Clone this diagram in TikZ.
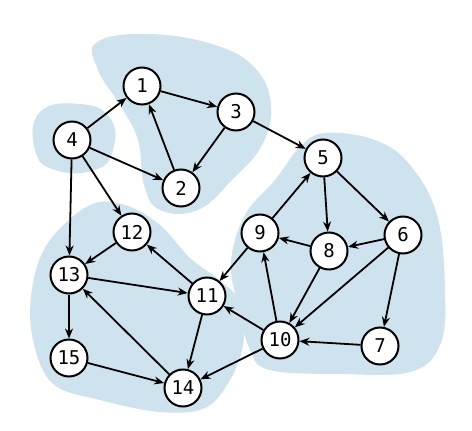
\documentclass[tikz,border=0pt]{standalone}
\usepackage{fontspec}
\newfontfamily\numfont{DejaVu Sans Mono}
\usetikzlibrary{arrows.meta}
\definecolor{blobblue}{RGB}{207,227,239}
\tikzset{
  vtx/.style={circle, draw=black, line width=2pt, fill=white, minimum size=37pt, inner sep=0pt, font=\numfont\fontsize{19}{19}\selectfont},
  arc/.style={line width=1.8pt, -{Stealth[length=10pt,width=8pt]}},
  blob/.style={fill=blobblue, draw=none}
}
\begin{document}
\begin{tikzpicture}[x=1pt,y=-1pt]
\useasboundingbox (0,0) rectangle (472,431);
% blobs
\fill[blob] plot[smooth cycle, tension=0.7] coordinates {(97,42) (150,34) (215,45) (255,68) (271,105) (262,145) (232,180) (198,210) (160,210) (144,185) (138,140) (120,105) (98,70)};
\fill[blob] plot[smooth cycle, tension=0.8] coordinates {(40,112) (80,104) (110,118) (113,150) (95,170) (55,170) (35,150)};
\fill[blob] plot[smooth cycle, tension=0.6] coordinates {(90,205) (125,205) (160,225) (190,258) (222,282) (242,305) (243,345) (230,380) (205,408) (160,412) (100,400) (52,383) (32,335) (33,283) (50,240)};
\fill[blob] plot[smooth cycle, tension=0.65] coordinates {(325,133) (375,140) (410,165) (437,215) (445,290) (440,345) (410,372) (340,374) (270,370) (250,350) (238,305) (231,262) (245,215) (275,180) (300,147)};
% nodes
\node[vtx] (n1) at (142,86) {1};
\node[vtx] (n3) at (236,112) {3};
\node[vtx] (n4) at (72,140) {4};
\node[vtx] (n2) at (181,188) {2};
\node[vtx] (n5) at (323,158) {5};
\node[vtx] (n12) at (132,232) {12};
\node[vtx] (n9) at (260,233) {9};
\node[vtx] (n8) at (329,251) {8};
\node[vtx] (n6) at (403,235) {6};
\node[vtx] (n13) at (69,275) {13};
\node[vtx] (n11) at (207,296) {11};
\node[vtx] (n10) at (280,340) {10};
\node[vtx] (n7) at (380,346) {7};
\node[vtx] (n15) at (69,358) {15};
\node[vtx] (n14) at (183,388) {14};
% edges
\draw[arc] (n4) -- (n1);
\draw[arc] (n1) -- (n3);
\draw[arc] (n3) -- (n2);
\draw[arc] (n2) -- (n1);
\draw[arc] (n4) -- (n2);
\draw[arc] (n3) -- (n5);
\draw[arc] (n4) -- (n12);
\draw[arc] (n4) -- (n13);
\draw[arc] (n12) -- (n13);
\draw[arc] (n13) -- (n15);
\draw[arc] (n13) -- (n11);
\draw[arc] (n11) -- (n12);
\draw[arc] (n11) -- (n14);
\draw[arc] (n14) -- (n13);
\draw[arc] (n15) -- (n14);
\draw[arc] (n10) -- (n14);
\draw[arc] (n10) -- (n11);
\draw[arc] (n9) -- (n11);
\draw[arc] (n9) -- (n5);
\draw[arc] (n5) -- (n8);
\draw[arc] (n5) -- (n6);
\draw[arc] (n8) -- (n9);
\draw[arc] (n6) -- (n8);
\draw[arc] (n8) -- (n10);
\draw[arc] (n10) -- (n9);
\draw[arc] (n6) -- (n10);
\draw[arc] (n6) -- (n7);
\draw[arc] (n7) -- (n10);
\end{tikzpicture}
\end{document}
